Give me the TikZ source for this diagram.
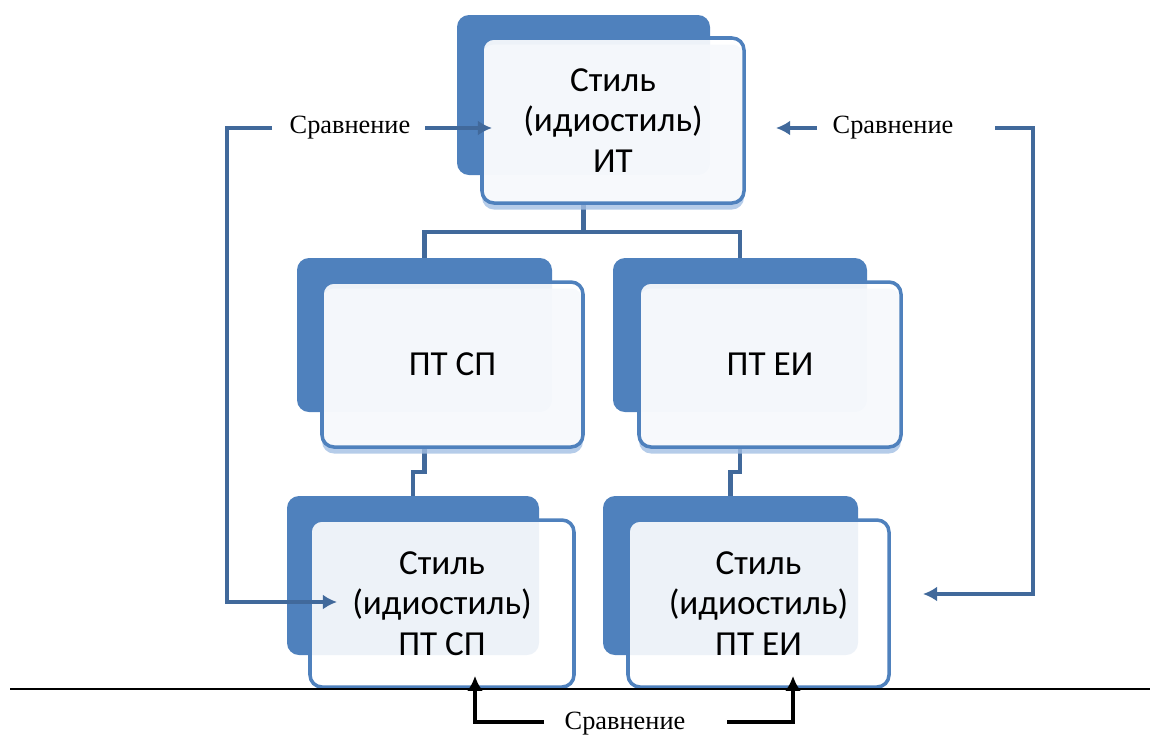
\documentclass[tikz,border=0pt]{standalone}
\usepackage{fontspec}
\setmainfont{Liberation Serif}
\newfontfamily\boxfont{Carlito}
\usetikzlibrary{arrows.meta,backgrounds}
\definecolor{bback}{HTML}{4F81BD}
\definecolor{bline}{HTML}{41699B}
\definecolor{bshadow}{HTML}{A3BFE3}
\begin{document}
\begin{tikzpicture}[x=0.02cm,y=-0.02cm,
  backbox/.style 2 args={draw=none,fill=bback,rounded corners=0.24cm,inner sep=0pt,
    minimum width={#1*0.02cm},minimum height={#2*0.02cm}},
  shadowbox/.style 2 args={draw=none,fill=bshadow,fill opacity=0.8,rounded corners=0.24cm,inner sep=0pt,
    minimum width={#1*0.02cm},minimum height={#2*0.02cm}},
  frontbox/.style 2 args={draw=bback,line width=2pt,fill=white,fill opacity=0.9,text opacity=1,
    rounded corners=0.24cm,inner sep=0pt,minimum width={#1*0.02cm},minimum height={#2*0.02cm},
    align=center,font=\boxfont\fontsize{20}{23}\selectfont,text=black},
  tree/.style={draw=bline,line width=2.5pt},
  cmparrow/.style={draw=bline,line width=2pt,-{Latex[length=8pt,width=8.5pt]}},
  blkarrow/.style={draw=black,line width=2.8pt,-{Latex[length=8.5pt,width=9pt]}},
  cmp/.style={font=\fontsize{15}{18}\selectfont,inner sep=1pt,text=black}]
\useasboundingbox (0,0) rectangle (1150,738);

% top box
\node[backbox={253}{160}] (topB) at (583.5,95) {};
\node[shadowbox={262}{165}] (topS) at (613,127) {};
\node[frontbox={262}{165}] (top) at (613,120.5) {Стиль\\(идиостиль)\\ИТ};

% middle boxes
\node[backbox={255}{154}] (mlB) at (424.5,335) {};
\node[shadowbox={261}{165}] (mlS) at (452.5,371) {};
\node[frontbox={261}{165}] (ml) at (452.5,364.5) {ПТ СП};

\node[backbox={254}{154}] (mrB) at (740,335) {};
\node[shadowbox={262}{165}] (mrS) at (770,371) {};
\node[frontbox={262}{165}] (mr) at (770,364.5) {ПТ ЕИ};

% bottom boxes
\node[backbox={252}{159}] (blB) at (413,575.5) {};
\node[frontbox={264}{167}] (bl) at (442,603.5) {Стиль\\(идиостиль)\\ПТ СП};

\node[backbox={255}{159}] (brB) at (730.5,575.5) {};
\node[frontbox={261}{167}] (br) at (758.5,603.5) {Стиль\\(идиостиль)\\ПТ ЕИ};

% tree connectors
\begin{scope}[on background layer]
  \draw[tree] (topB.south |- top.south) -- ++(0,27) -| (mlB.north);
  \draw[tree] (topB.south |- top.south) -- ++(0,27) -| (mrB.north);
  \draw[tree] (mlB.south |- ml.south) -- ++(0,23) -| (blB.north);
  \draw[tree] (mrB.south |- mr.south) -- ++(0,23) -| (brB.north);
\end{scope}

% comparison labels
\node[cmp] (cL) at (350,128) {Сравнение};
\node[cmp] (cR) at (893,128) {Сравнение};
\node[cmp] (cB) at (625,724) {Сравнение};

% left comparison
\coordinate (cLa) at (272,128);
\coordinate (cLk) at (227,602);
\coordinate (cLt) at (337,602);
\draw[cmparrow] (cLa) -| (cLk) -- (cLt);
\coordinate (cLs) at (425,128);
\coordinate (cLe) at (492,128);
\draw[cmparrow] (cLs) -- (cLe);

% right comparison
\coordinate (cRs) at (817,128);
\coordinate (cRe) at (776,128);
\draw[cmparrow] (cRs) -- (cRe);
\coordinate (cRa) at (995,128);
\coordinate (cRk) at (1033,594);
\coordinate (cRt) at (923,594);
\draw[cmparrow] (cRa) -| (cRk) -- (cRt);

% baseline
\coordinate (hl1) at (10,689);
\coordinate (hl2) at (1150,689);
\draw[line width=1.2pt] (hl1) -- (hl2);

% bottom comparison
\coordinate (bLa) at (544,722);
\coordinate (bLt) at (475,676);
\draw[blkarrow] (bLa) -| (bLt);
\coordinate (bRa) at (727,722);
\coordinate (bRt) at (793,676);
\draw[blkarrow] (bRa) -| (bRt);
\end{tikzpicture}
\end{document}
